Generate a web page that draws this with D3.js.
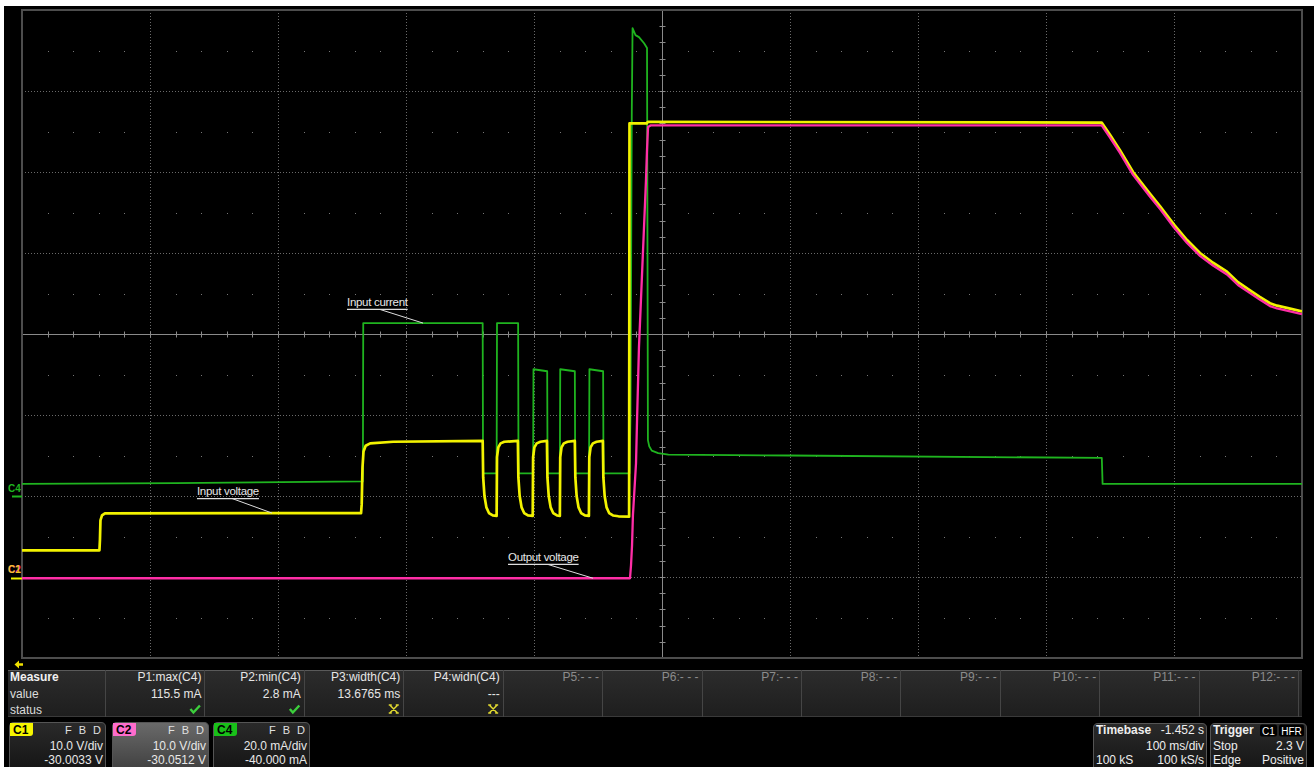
<!DOCTYPE html>
<html><head><meta charset="utf-8">
<script src="https://cdn.jsdelivr.net/npm/d3@7"></script>
<style>
html,body{margin:0;padding:0;background:#fff;overflow:hidden;}
svg{display:block;}
text{font-family:"Liberation Sans",Arial,sans-serif;}
</style></head><body>
<svg id="c" width="1314" height="767"></svg>
<script>
// ================= DATA =================
// time axis: 0..1000 ms across the screen (100 ms/div, 10 div)
const timeDomain = [0, 1000];
// channel settings
const channelNames   = ["C1", "C2", "C4"];
const channelPerDiv  = [10, 10, 20];
const channelOffset  = [-30.0033, -30.0512, -40.000];
const channelUnits   = ["V", "V", "mA"];
const channelColors  = ["#f2f200", "#ff2ea6", "#1fb41f"];
const channelPerDivText = ["10.0 V/div", "10.0 V/div", "20.0 mA/div"];
const channelOffsetText = ["-30.0033 V", "-30.0512 V", "-40.000 mA"];

// C1 : input voltage  [time ms, volts]
const c1Trace = [
 [0,3.3],[60.5,3.3],[60.9,4.6],[61.3,7.0],[62.5,7.6],[64.8,7.85],[264.9,7.9],
 [265.4,9.0],[266.0,13.5],[266.8,15.5],[268.5,16.2],[272,16.5],[290,16.7],[359.9,16.8],
 [360.3,12.3],[361.3,10.0],[362.8,8.6],[364.8,7.9],[367.8,7.6],[370.8,7.55],
 [371.1,14.8],[372.1,16.0],[373.9,16.5],[376.8,16.7],[387.4,16.8],
 [387.8,12.3],[388.8,10.0],[390.3,8.6],[392.3,7.9],[395.3,7.6],[399.0,7.55],
 [399.3,14.8],[400.3,16.0],[402.1,16.5],[405.0,16.7],[410.1,16.8],
 [410.5,12.3],[411.5,10.0],[413.0,8.6],[415.0,7.9],[418.0,7.6],[420.2,7.55],
 [420.5,14.8],[421.5,16.0],[423.3,16.5],[426.2,16.7],[431.9,16.8],
 [432.3,12.3],[433.3,10.0],[434.8,8.6],[436.8,7.9],[439.8,7.6],[442.9,7.55],
 [443.2,14.8],[444.2,16.0],[446.0,16.5],[448.9,16.7],[453.8,16.8],
 [454.2,12.3],[455.2,10.0],[456.7,8.6],[458.7,7.9],[461.7,7.6],[466,7.5],[474.3,7.45],
 [474.6,56.0],[488,56.0],[489,56.2],[843.5,56.1],
 [850,54.6],[857.8,52.7],[868,50.0],[881.3,47.3],[889,45.8],[900,43.5],[910.2,41.6],
 [920.3,40.0],[930.5,38.8],[941.4,37.7],[950,36.4],[959.4,35.4],[967,34.6],[975,33.8],
 [980.5,33.5],[989,33.2],[1000,32.8]
];
// C2 : output voltage [time ms, volts]
const c2Trace = [
 [0,-0.1],[475.0,-0.1],[475.8,1.5],[476.6,4.0],[477.3,7.7],[479.7,14.1],[480.5,19.4],
 [482.0,28.4],[487.5,49.1],[488.3,52.8],[489.1,55.6],[491,55.8],[843.5,55.8],
 [850,54.3],[857.8,52.4],[868,49.7],[881.3,47.0],[889,45.5],[900,43.2],[910.2,41.3],
 [920.3,39.7],[930.5,38.5],[941.4,37.4],[950,36.1],[959.4,35.1],[967,34.3],[975,33.5],
 [980.5,33.2],[989,32.9],[1000,32.5]
];
// C4 : input current [time ms, mA]
const c4Trace = [
 [0,3.0],[120,3.2],[266.3,3.6],[266.6,42.7],[359.9,42.7],[360.2,5.6],[370.8,5.6],
 [371.1,42.7],[387.6,42.7],[387.9,5.6],[399.3,5.6],[399.6,31.3],[410.3,30.8],
 [410.6,5.6],[420.2,5.6],[420.5,31.3],[431.9,30.8],[432.2,5.6],[443.0,5.6],
 [443.3,31.3],[454.0,30.8],[454.3,5.6],[474.6,5.6],[475.4,20],[476.4,95],
 [477.0,115.5],[479.3,113.8],[482,113.3],[486,111.8],[488.3,110.6],[489.0,13.8],
 [490,12.3],[492,11.2],[497,10.6],[505,10.2],[600,10.0],[843.6,9.4],[844.2,3.0],[1000,3.0]
];

// annotations
const annotText      = ["Input current", "Input voltage", "Output voltage"];
const annotTextT     = [253.9, 136.7, 379.7];   // ms, left of text
const annotTextDiv   = [0.346, -1.988, -2.802]; // divisions, baseline
const annotLeaderT   = [279.7, 164.1, 410.9];   // ms, pointer start on underline
const annotTargetT   = [313.3, 195.3, 446.1];   // ms
const annotTargetVal = [42.7, 7.9, -0.1];       // value on channel
const annotTargetCh  = [2, 0, 1];               // index into channels

// measurement table
const measureHeaders = ["P1:max(C4)","P2:min(C4)","P3:width(C4)","P4:widn(C4)",
  "P5:- - -","P6:- - -","P7:- - -","P8:- - -","P9:- - -","P10:- - -","P11:- - -","P12:- - -"];
const measureValues  = ["115.5 mA","2.8 mA","13.6765 ms","---"];
const measureStatus  = ["ok","ok","na","na"];
const measureRowLabels = ["Measure","value","status"];

// timebase / trigger
const timebaseTexts = ["Timebase","-1.452 s","100 ms/div","100 kS","100 kS/s"];
const triggerTexts  = ["Trigger","C1","HFR","Stop","2.3 V","Edge","Positive"];

// ================= DRAW =================
const W = 1314, H = 767;
const plotL = 22, plotR = 1302, plotT = 10, plotB = 658;
const svg = d3.select("#c");
const defs = svg.append("defs");

svg.append("rect").attr("width", W).attr("height", H).attr("fill", "#fff");
svg.append("rect").attr("x", 4).attr("y", 6).attr("width", W - 4).attr("height", H - 6).attr("fill", "#000");

const xDiv = d3.scaleLinear([0, 10], [plotL, plotR]);
const yDiv = d3.scaleLinear([-4, 4], [plotB, plotT]);
const xT = d3.scaleLinear(timeDomain, [plotL, plotR]);
const yCh = channelNames.map((n, i) =>
  d3.scaleLinear([-4 * channelPerDiv[i] - channelOffset[i], 4 * channelPerDiv[i] - channelOffset[i]], [plotB, plotT]));

// ---- grid ----
const grid = svg.append("g");
d3.range(1, 10).filter(d => d !== 5).forEach(d => {
  grid.append("line").attr("x1", Math.round(xDiv(d)) + 0.5).attr("x2", Math.round(xDiv(d)) + 0.5)
    .attr("y1", plotT).attr("y2", plotB).attr("stroke", "#6a6a6a").attr("stroke-dasharray", "1,2");
});
d3.range(-3, 4).filter(d => d !== 0).forEach(d => {
  grid.append("line").attr("y1", Math.round(yDiv(d)) + 0.5).attr("y2", Math.round(yDiv(d)) + 0.5)
    .attr("x1", plotL).attr("x2", plotR).attr("stroke", "#6a6a6a").attr("stroke-dasharray", "1,2");
});
// half-division dots
d3.range(-4, 4).forEach(r => {
  const y = Math.round(yDiv(r + 0.5));
  d3.range(0, 50).forEach(k => {
    if (k % 5 === 0) return;
    grid.append("rect").attr("x", Math.round(xDiv(k * 0.2))).attr("y", y).attr("width", 1).attr("height", 1).attr("fill", "#777");
  });
});
// centre axes
const cx = Math.round(xDiv(5)) + 0.5, cy = Math.round(yDiv(0)) + 0.5;
grid.append("line").attr("x1", plotL).attr("x2", plotR).attr("y1", cy).attr("y2", cy).attr("stroke", "#8a8a8a");
grid.append("line").attr("x1", cx).attr("x2", cx).attr("y1", plotT).attr("y2", plotB).attr("stroke", "#8a8a8a");
d3.range(1, 50).forEach(k => {
  const x = Math.round(xDiv(k * 0.2)) + 0.5;
  grid.append("line").attr("x1", x).attr("x2", x).attr("y1", cy - 3).attr("y2", cy + 3).attr("stroke", "#8a8a8a");
});
d3.range(1, 40).forEach(k => {
  const y = Math.round(yDiv(-4 + k * 0.2)) + 0.5;
  grid.append("line").attr("y1", y).attr("y2", y).attr("x1", cx - 3).attr("x2", cx + 3).attr("stroke", "#8a8a8a");
});
// border
svg.append("rect").attr("x", plotL).attr("y", plotT).attr("width", plotR - plotL).attr("height", plotB - plotT)
  .attr("fill", "none").attr("stroke", "#4d4d4d").attr("stroke-width", 2);

// ---- traces ----
const traces = [c4Trace, c1Trace, c2Trace];
const traceCh = [2, 0, 1];
const traceW = [1.8, 2.7, 2.3];
const clip = defs.append("clipPath").attr("id", "pc");
clip.append("rect").attr("x", plotL).attr("y", plotT).attr("width", plotR - plotL).attr("height", plotB - plotT);
const tg = svg.append("g").attr("clip-path", "url(#pc)");
traces.forEach((tr, i) => {
  const ci = traceCh[i];
  const line = d3.line().x(d => xT(d[0])).y(d => yCh[ci](d[1]));
  tg.append("path").attr("d", line(tr)).attr("fill", "none")
    .attr("stroke", channelColors[ci]).attr("stroke-width", traceW[i]).attr("stroke-linejoin", "round");
});

// ---- annotations ----
const ag = svg.append("g");
annotText.forEach((t, i) => {
  const x = xT(annotTextT[i]), y = yDiv(annotTextDiv[i]);
  const txt = ag.append("text").attr("x", x).attr("y", y).attr("fill", "#e8e8e8")
    .attr("font-size", 11.5).attr("letter-spacing", -0.3).text(t);
  const w = txt.node().getComputedTextLength();
  ag.append("line").attr("x1", x).attr("x2", x + w).attr("y1", y + 3.5).attr("y2", y + 3.5)
    .attr("stroke", "#ddd").attr("stroke-width", 1.2);
  ag.append("line").attr("x1", xT(annotLeaderT[i])).attr("y1", y + 3.5)
    .attr("x2", xT(annotTargetT[i])).attr("y2", yCh[annotTargetCh[i]](annotTargetVal[i]))
    .attr("stroke", "#ddd").attr("stroke-width", 1);
});

// ---- left channel markers ----
const mg = svg.append("g");
[2, 1, 0].forEach(ci => {
  const y0 = Math.round(yCh[ci](0));
  mg.append("text").attr("x", 8).attr("y", y0 - 4).attr("font-size", 10).attr("font-weight", "bold")
    .attr("fill", channelColors[ci]).attr("opacity", ci === 0 ? 0.75 : 1).text(channelNames[ci]);
});
mg.append("line").attr("x1", 12).attr("x2", 22).attr("y1", Math.round(yCh[2](0)) + 0.5).attr("y2", Math.round(yCh[2](0)) + 0.5)
  .attr("stroke", channelColors[2]).attr("stroke-width", 2);
mg.append("line").attr("x1", 11).attr("x2", 22).attr("y1", Math.round(yCh[0](0)) + 1.5).attr("y2", Math.round(yCh[0](0)) + 1.5)
  .attr("stroke", channelColors[0]).attr("stroke-width", 2);
// trigger arrow (off-screen left)
svg.append("path").attr("d", "M14.5,664.5 L19,660.5 L19,663.3 L23,663.3 L23,665.7 L19,665.7 L19,668.5 Z").attr("fill", "#f0e000");

// ---- measurement table ----
const mt = svg.append("g");
const tY0 = 670, tY1 = 717, colStart = 105, colEnd = 1298;
const colW = (colEnd - colStart) / measureHeaders.length;
const cellGrad = defs.append("linearGradient").attr("id", "cellg").attr("x1", 0).attr("x2", 0).attr("y1", 0).attr("y2", 1);
cellGrad.append("stop").attr("offset", "0%").attr("stop-color", "#2c2c2c");
cellGrad.append("stop").attr("offset", "100%").attr("stop-color", "#1e1e1e");
mt.append("rect").attr("x", 8).attr("y", tY0).attr("width", 1302 - 8).attr("height", tY1 - tY0).attr("fill", "url(#cellg)");
mt.append("line").attr("x1", 8).attr("x2", 1302).attr("y1", tY0 + 0.5).attr("y2", tY0 + 0.5).attr("stroke", "#5a5a5a");
mt.append("line").attr("x1", 8).attr("x2", 1302).attr("y1", tY1 - 0.5).attr("y2", tY1 - 0.5).attr("stroke", "#3a3a3a");
d3.range(0, measureHeaders.length + 1).forEach(k => {
  const x = Math.round(colStart + k * colW) + 0.5;
  mt.append("line").attr("x1", x).attr("x2", x).attr("y1", tY0).attr("y2", tY1).attr("stroke", "#454545");
});
measureRowLabels.forEach((l, r) => {
  mt.append("text").attr("x", 10).attr("y", 681 + r * 16.5).attr("font-size", 12)
    .attr("font-weight", r === 0 ? "bold" : "normal").attr("fill", r === 0 ? "#f0f0f0" : "#dcdcdc").text(l);
});
measureHeaders.forEach((h, k) => {
  const xr = colStart + (k + 1) * colW - 3;
  mt.append("text").attr("x", xr).attr("y", 681).attr("text-anchor", "end").attr("font-size", 12)
    .attr("fill", k < 4 ? "#e6e6e6" : "#8c8c8c").text(h);
  if (k < measureValues.length) {
    mt.append("text").attr("x", xr).attr("y", 698).attr("text-anchor", "end").attr("font-size", 12)
      .attr("fill", "#e6e6e6").text(measureValues[k]);
    if (measureStatus[k] === "ok") {
      mt.append("path").attr("d", `M${xr - 11},709 l3,3.5 l6.5,-7`).attr("fill", "none")
        .attr("stroke", "#3ccf3c").attr("stroke-width", 2.4);
    } else {
      const a = xr - 11;
      mt.append("path").attr("d", `M${a + 1},705.5 l7,7 M${a + 8},705.5 l-7,7 M${a - 0.5},705 h3 M${a + 6.5},705 h3 M${a - 0.5},713 h3 M${a + 6.5},713 h3`)
        .attr("fill", "none").attr("stroke", "#e0d830").attr("stroke-width", 1.5);
    }
  }
});

// ---- channel boxes ----
const boxGrad = defs.append("linearGradient").attr("id", "boxg").attr("x1", 0).attr("x2", 0).attr("y1", 0).attr("y2", 1);
boxGrad.append("stop").attr("offset", "0%").attr("stop-color", "#2a2a2a");
boxGrad.append("stop").attr("offset", "100%").attr("stop-color", "#141414");
const selGrad = defs.append("linearGradient").attr("id", "selg").attr("x1", 0).attr("x2", 0).attr("y1", 0).attr("y2", 1);
selGrad.append("stop").attr("offset", "0%").attr("stop-color", "#6a6a6a");
selGrad.append("stop").attr("offset", "100%").attr("stop-color", "#3e3e3e");
const boxX = [9, 112, 213];
const badgeColors = ["#f5f500", "#ff6ccc", "#19c019"];
channelNames.forEach((n, i) => {
  const g = svg.append("g").attr("transform", `translate(${boxX[i]},722)`);
  const bw = 97;
  g.append("path").attr("d", `M0.5,50 V5 Q0.5,0.5 5,0.5 H${bw - 5} Q${bw - 0.5},0.5 ${bw - 0.5},5 V50`)
    .attr("fill", i === 1 ? "url(#selg)" : "url(#boxg)").attr("stroke", "#555");
  g.append("path").attr("d", "M1,1 H24 V11 Q24,14 21,14 H1 Z").attr("fill", badgeColors[i]);
  g.append("text").attr("x", 4).attr("y", 12).attr("font-size", 12).attr("font-weight", "bold").attr("fill", "#000").text(n);
  g.append("text").attr("x", bw - 3).attr("y", 12).attr("text-anchor", "end").attr("font-size", 11)
    .attr("letter-spacing", 2).attr("fill", "#e0e0e0").text("F B D");
  g.append("text").attr("x", bw - 3).attr("y", 28).attr("text-anchor", "end").attr("font-size", 12)
    .attr("fill", "#e8e8e8").text(channelPerDivText[i]);
  g.append("text").attr("x", bw - 3).attr("y", 42).attr("text-anchor", "end").attr("font-size", 12)
    .attr("fill", "#e8e8e8").text(channelOffsetText[i]);
});

// ---- timebase / trigger ----
const tb = svg.append("g").attr("transform", "translate(1093,723)");
tb.append("path").attr("d", "M0.5,50 V5 Q0.5,0.5 5,0.5 H109 Q113.5,0.5 113.5,5 V50").attr("fill", "url(#boxg)").attr("stroke", "#555");
tb.append("text").attr("x", 3).attr("y", 11).attr("font-size", 12).attr("font-weight", "bold").attr("fill", "#eee").text(timebaseTexts[0]);
tb.append("text").attr("x", 111).attr("y", 11).attr("text-anchor", "end").attr("font-size", 12).attr("fill", "#eee").text(timebaseTexts[1]);
tb.append("text").attr("x", 111).attr("y", 27).attr("text-anchor", "end").attr("font-size", 12).attr("fill", "#eee").text(timebaseTexts[2]);
tb.append("text").attr("x", 3).attr("y", 41).attr("font-size", 12).attr("fill", "#eee").text(timebaseTexts[3]);
tb.append("text").attr("x", 111).attr("y", 41).attr("text-anchor", "end").attr("font-size", 12).attr("fill", "#eee").text(timebaseTexts[4]);

const trg = svg.append("g").attr("transform", "translate(1210,723)");
trg.append("path").attr("d", "M0.5,50 V5 Q0.5,0.5 5,0.5 H92 Q96.5,0.5 96.5,5 V50").attr("fill", "url(#boxg)").attr("stroke", "#555");
trg.append("text").attr("x", 3).attr("y", 11).attr("font-size", 12).attr("font-weight", "bold").attr("fill", "#eee").text(triggerTexts[0]);
trg.append("rect").attr("x", 50).attr("y", 1.5).attr("width", 17).attr("height", 12).attr("rx", 2).attr("fill", "#000");
trg.append("text").attr("x", 58.5).attr("y", 11.5).attr("text-anchor", "middle").attr("font-size", 10).attr("fill", "#fff").text(triggerTexts[1]);
trg.append("rect").attr("x", 69).attr("y", 1.5).attr("width", 25).attr("height", 12).attr("rx", 2).attr("fill", "#000");
trg.append("text").attr("x", 81.5).attr("y", 11.5).attr("text-anchor", "middle").attr("font-size", 10).attr("fill", "#fff").text(triggerTexts[2]);
trg.append("text").attr("x", 3).attr("y", 27).attr("font-size", 12).attr("fill", "#eee").text(triggerTexts[3]);
trg.append("text").attr("x", 94).attr("y", 27).attr("text-anchor", "end").attr("font-size", 12).attr("fill", "#eee").text(triggerTexts[4]);
trg.append("text").attr("x", 3).attr("y", 41).attr("font-size", 12).attr("fill", "#eee").text(triggerTexts[5]);
trg.append("text").attr("x", 94).attr("y", 41).attr("text-anchor", "end").attr("font-size", 12).attr("fill", "#eee").text(triggerTexts[6]);
</script>
</body></html>
